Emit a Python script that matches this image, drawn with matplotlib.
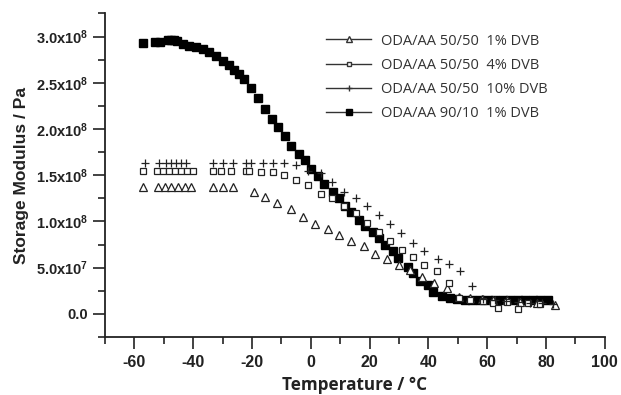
import matplotlib
matplotlib.use("Agg")
from matplotlib import pyplot as plt
from matplotlib.ticker import MultipleLocator, FixedLocator, FixedFormatter
from matplotlib.lines import Line2D

# storage modulus in units of 1e8 Pa, temperature in degC
t_1dvb = [-57.1, -52.0, -49.7, -47.5, -45.2, -42.9, -40.7, -33.3, -29.9, -26.5, -19.2, -15.6,
          -11.6, -6.9, -2.8, 1.3, 5.7, 9.6, 13.6, 18.1, 22.0, 26.0, 29.9, 33.9, 37.9, 41.8,
          46.3, 50.3, 54.2, 58.2, 62.1, 66.7, 71.2, 76.8, 83.1]
e_1dvb = [1.37, 1.37, 1.37, 1.37, 1.37, 1.37, 1.37, 1.37, 1.37, 1.37, 1.32, 1.26,
          1.20, 1.13, 1.05, 0.97, 0.92, 0.85, 0.79, 0.73, 0.65, 0.59, 0.53, 0.47, 0.40, 0.33,
          0.28, 0.18, 0.17, 0.16, 0.15, 0.15, 0.13, 0.115, 0.10]

t_4dvb = [-57.1, -52.2, -50.2, -48.1, -46.1, -44.1, -42.0, -40.0, -33.3, -30.5, -27.1, -22.0,
          -21.0, -17.0, -13.0, -9.1, -5.1, -1.1, 3.4, 7.3, 11.3, 15.3, 19.2, 23.2, 27.1, 31.1,
          34.8, 38.4, 42.9, 46.9, 50.3, 54.2, 58.6, 62.0, 63.8, 66.7, 70.6, 74.0, 78.0]
e_4dvb = [1.54, 1.54, 1.54, 1.54, 1.54, 1.54, 1.54, 1.54, 1.54, 1.54, 1.54, 1.54,
          1.54, 1.53, 1.53, 1.50, 1.45, 1.39, 1.30, 1.25, 1.17, 1.09, 0.98, 0.88, 0.79, 0.69,
          0.61, 0.53, 0.46, 0.33, 0.17, 0.15, 0.14, 0.12, 0.06, 0.13, 0.05, 0.12, 0.11]

t_10dvb = [-56.5, -51.5, -49.2, -47.5, -45.8, -44.1, -42.4, -33.3, -29.9, -26.5, -22.0, -20.3,
           -16.4, -13.0, -9.1, -5.1, -1.1, 3.4, 7.3, 11.3, 15.3, 19.2, 23.2, 27.1, 30.7, 34.8,
           38.6, 43.2, 47.0, 50.8, 54.8, 58.6, 62.5, 66.5, 70.5, 74.5, 78.5, 82.5]
e_10dvb = [1.63, 1.63, 1.63, 1.63, 1.63, 1.63, 1.63, 1.63, 1.63, 1.63, 1.63, 1.63,
           1.63, 1.63, 1.63, 1.61, 1.55, 1.52, 1.43, 1.32, 1.25, 1.17, 1.07, 0.97, 0.87, 0.77,
           0.68, 0.59, 0.54, 0.46, 0.30, 0.16, 0.15, 0.14, 0.13, 0.12, 0.12, 0.11]

t_9010 = [-57.1, -52.9, -51.2, -48.5, -47.5, -46.4, -45.4, -43.4, -41.4, -39.0, -36.6, -34.6,
          -32.2, -29.8, -27.8, -26.1, -24.4, -22.7, -20.3, -18.0, -15.6, -13.2, -11.2, -8.8,
          -6.8, -4.1, -2.0, 0.0, 2.4, 4.4, 7.5, 9.5, 11.5, 13.6, 16.3, 18.6, 21.0, 23.1, 25.4,
          27.8, 29.8, 32.9, 34.9, 37.3, 39.7, 41.7, 44.7, 47.5, 49.8, 52.5, 54.9, 57.6, 60.3,
          62.7, 65.4, 67.8, 70.5, 72.9, 75.6, 78.0, 80.7]
e_9010 = [2.93, 2.94, 2.94, 2.96, 2.96, 2.96, 2.95, 2.92, 2.90, 2.89, 2.87, 2.83,
          2.79, 2.74, 2.69, 2.64, 2.59, 2.54, 2.44, 2.34, 2.22, 2.11, 2.02, 1.92,
          1.82, 1.73, 1.66, 1.57, 1.49, 1.41, 1.32, 1.25, 1.17, 1.10, 1.01, 0.95, 0.88, 0.82, 0.74,
          0.68, 0.60, 0.51, 0.44, 0.36, 0.31, 0.24, 0.19, 0.17, 0.16, 0.155, 0.15, 0.15, 0.15,
          0.15, 0.15, 0.15, 0.15, 0.15, 0.15, 0.15, 0.15]

series_labels = ["ODA/AA 50/50  1% DVB", "ODA/AA 50/50  4% DVB",
                 "ODA/AA 50/50  10% DVB", "ODA/AA 90/10  1% DVB"]

y_ticks = [0.0, 0.5e8, 1.0e8, 1.5e8, 2.0e8, 2.5e8, 3.0e8]
y_mantissa = ["0.0", "5.0", "1.0", "1.5", "2.0", "2.5", "3.0"]
y_exponent = [None, 7, 8, 8, 8, 8, 8]

plt.rcParams['mathtext.fontset'] = 'custom'
plt.rcParams['mathtext.bf'] = 'Liberation Sans:bold'
plt.rcParams['mathtext.rm'] = 'Liberation Sans'
plt.rcParams['font.family'] = ['Liberation Sans', 'DejaVu Sans']
plt.rcParams['axes.unicode_minus'] = False

ink = '#222222'


def scale(vals):
    return [v * 1e8 for v in vals]


def sci_label(m, e):
    if e is None:
        return m
    return r'$\mathbf{%sx10^{%d}}$' % (m, e)


fig = plt.figure(figsize=(6.21, 3.95), dpi=100)
ax = fig.add_axes([0.169, 0.147, 0.805, 0.819])

ax.plot(t_9010, scale(e_9010), 's', ms=5.3, color='black', zorder=2)
ax.plot(t_1dvb, scale(e_1dvb), '^', ms=5.8, mfc='white', mec=ink, mew=0.9, zorder=3)
ax.plot(t_4dvb, scale(e_4dvb), 's', ms=5, mfc='white', mec=ink, mew=0.9, zorder=3)
ax.plot(t_10dvb, scale(e_10dvb), '+', ms=6, mec=ink, mew=0.9, zorder=3)

ax.set_xlim(-70, 100)
ax.set_ylim(-0.25e8, 3.25e8)

for side in ['top', 'right']:
    ax.spines[side].set_visible(False)
for side in ['left', 'bottom']:
    ax.spines[side].set_linewidth(1.3)
    ax.spines[side].set_color(ink)

ax.xaxis.set_major_locator(MultipleLocator(20))
ax.xaxis.set_minor_locator(MultipleLocator(10))
ax.yaxis.set_major_locator(FixedLocator(y_ticks))
ax.yaxis.set_minor_locator(MultipleLocator(0.25e8))
ax.yaxis.set_major_formatter(FixedFormatter([sci_label(m, e) for m, e in zip(y_mantissa, y_exponent)]))
ax.tick_params(which='major', direction='out', length=8.5, width=1.2, color=ink, pad=3.5,
               labelsize=10.5, labelcolor=ink)
ax.tick_params(axis='x', which='major', pad=4.5, labelsize=11.5)
ax.tick_params(which='minor', direction='out', length=5, width=1.2, color=ink)
for lab in ax.get_xticklabels() + ax.get_yticklabels():
    lab.set_fontweight('bold')

ax.set_xlabel("Temperature / °C", fontsize=12.3, fontweight='bold', family='Open Sans',
              color=ink, labelpad=4)
ax.set_ylabel("Storage Modulus / Pa", fontsize=12.5, fontweight='bold', color=ink, labelpad=5)

handles = [
    Line2D([], [], color='#333333', lw=1, marker='^', ms=4, mfc='white', mec='#333333'),
    Line2D([], [], color='#333333', lw=1, marker='s', ms=3.5, mfc='white', mec='#333333'),
    Line2D([], [], color='#333333', lw=1, marker='+', ms=4, mec='#333333'),
    Line2D([], [], color='#333333', lw=1, marker='s', ms=4, mfc='black', mec='black'),
]
fig.legend(handles, series_labels, loc='upper left', bbox_to_anchor=(0.525, 0.915),
           frameon=False, prop={'family': 'Open Sans', 'size': 10.5}, labelcolor='#333333',
           handlelength=3.1, handletextpad=0.7, labelspacing=0.62, borderpad=0,
           borderaxespad=0)

fig.savefig("out.png", dpi=100)
